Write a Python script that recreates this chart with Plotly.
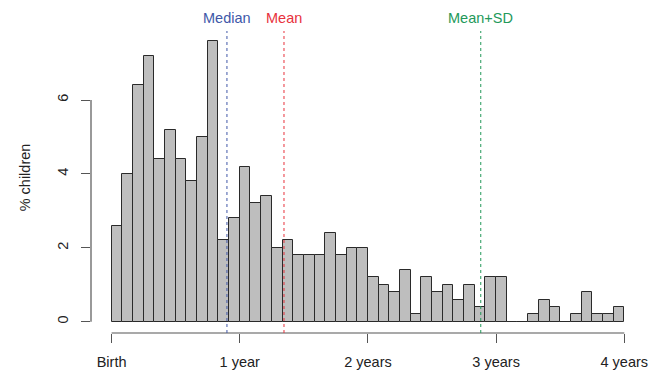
import plotly.graph_objects as go

# Monthly bins: % of children per month of age (0-48 months)
months = list(range(48))
pct_children = [2.6, 4.0, 6.4, 7.2, 4.4, 5.2, 4.4, 3.8, 5.0, 7.6,
                2.2, 2.8, 4.2, 3.2, 3.4, 2.0, 2.2, 1.8, 1.8, 1.8,
                2.4, 1.8, 2.0, 2.0, 1.2, 1.0, 0.8, 1.4, 0.2, 1.2,
                0.8, 1.0, 0.6, 1.0, 0.4, 1.2, 1.2, 0.0, 0.0, 0.2,
                0.6, 0.4, 0.0, 0.2, 0.8, 0.2, 0.2, 0.4]

x_tick_vals = [0, 1, 2, 3, 4]
x_tick_text = ["Birth", "1 year", "2 years", "3 years", "4 years"]
y_tick_vals = [0, 2, 4, 6]

stat_names = ["Median", "Mean", "Mean+SD"]
stat_values = [0.90, 1.345, 2.88]  # years
stat_colors = ["#4058a8", "#e8323c", "#23995a"]

W, H = 662, 371
L, R, T, B = 90.7, 22, 10, 38
px_per_year = 128.25
px_per_unit = 36.95
x0_px = 111.3
y0_px = 321.7
FS = 14.5

x_range = [(L - x0_px) / px_per_year, (W - R - x0_px) / px_per_year]
y_range = [(y0_px - (H - B)) / px_per_unit, (y0_px - T) / px_per_unit]

x_centers = [(m + 0.5) / 12 for m in months]

fig = go.Figure()
fig.add_trace(go.Bar(
    x=x_centers, y=pct_children, width=1 / 12,
    marker=dict(color="#bebebe", line=dict(color="#2a2a2a", width=1)),
    showlegend=False, hoverinfo="skip",
))

shapes = []
# R-style detached axis lines
shapes.append(dict(type="line", xref="x", yref="paper", x0=0, x1=4, y0=0, y1=0,
                   line=dict(color="#555555", width=1.2)))
shapes.append(dict(type="line", xref="paper", yref="y", x0=0, x1=0, y0=0, y1=6,
                   line=dict(color="#555555", width=1.2)))
annotations = []
line_top = (y0_px - 31) / px_per_unit
label_y = (y0_px - 18) / px_per_unit
for name, val, col in zip(stat_names, stat_values, stat_colors):
    shapes.append(dict(type="line", xref="x", yref="y", x0=val, x1=val,
                       y0=y_range[0], y1=line_top,
                       line=dict(color=col, width=1, dash="3px,3px")))
    annotations.append(dict(x=val, y=label_y, xref="x", yref="y", text=name,
                            showarrow=False, font=dict(color=col, size=FS),
                            xanchor="center", yanchor="middle"))

annotations.append(dict(x=(25 - L) / (W - L - R), y=(H - B - 177) / (H - B - T),
                        xref="paper", yref="paper", text="% children",
                        textangle=-90, showarrow=False,
                        font=dict(size=FS, color="#222222"),
                        xanchor="center", yanchor="middle"))

fig.update_layout(
    width=W, height=H,
    margin=dict(l=L, r=R, t=T, b=B, pad=0, autoexpand=False),
    paper_bgcolor="white", plot_bgcolor="white",
    font=dict(family="Liberation Sans, Arial, sans-serif", size=FS, color="#222222"),
    bargap=0,
    shapes=shapes, annotations=annotations,
    xaxis=dict(range=x_range, tickvals=x_tick_vals, ticktext=x_tick_text,
               ticks="outside", ticklen=9, tickcolor="#555555", tickwidth=1.2,
               showgrid=False, zeroline=False, showline=False, automargin=False,
               ticklabelstandoff=7, fixedrange=True),
    yaxis=dict(range=y_range, tickvals=y_tick_vals, tickangle=-90,
               ticks="outside", ticklen=9, tickcolor="#555555", tickwidth=1.2,
               showgrid=False, zeroline=False, showline=False, automargin=False,
               ticklabelstandoff=7, fixedrange=True),
)

fig.write_html("out.html")
